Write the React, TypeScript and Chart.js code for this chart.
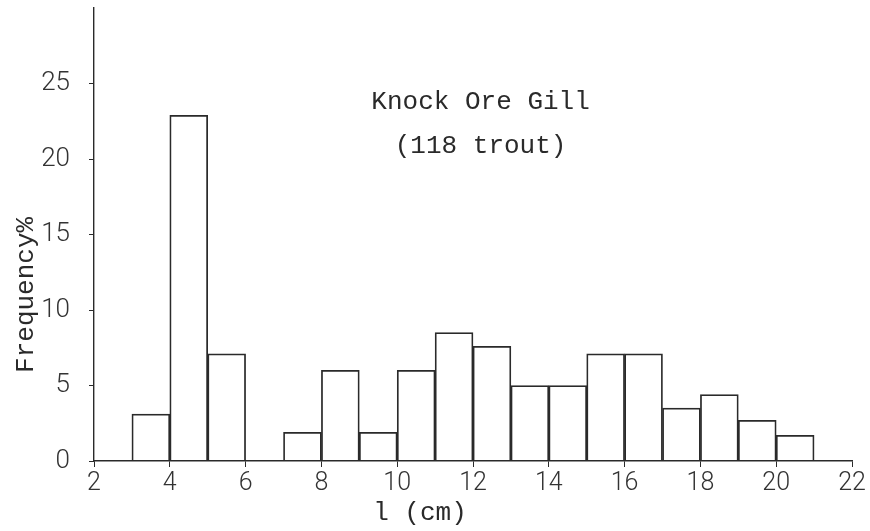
import React, { useEffect, useRef } from "react";
import { Chart, registerables } from "chart.js";

Chart.register(...registerables);

// Length classes (cm): bar from start to start+1
const binStarts = [3, 4, 5, 6, 7, 8, 9, 10, 11, 12, 13, 14, 15, 16, 17, 18, 19, 20];
// Frequency (%) of the 118 trout in each 1 cm class
const frequencies = [3.1, 22.9, 7.1, 0, 1.9, 6.0, 1.9, 6.0, 8.5, 7.6, 5.0, 5.0, 7.1, 7.1, 3.5, 4.4, 2.7, 1.7];

const xTickValues = [2, 4, 6, 8, 10, 12, 14, 16, 18, 20, 22];
const yTickValues = [0, 5, 10, 15, 20, 25];

const titleLines = ["Knock Ore Gill", "(118 trout)"];
const xAxisTitle = "l (cm)";
const yAxisTitle = "Frequency%";

const INK = "#2a2a2a";
const MONO = "'Liberation Mono', 'DejaVu Sans Mono', monospace";
const SANS = "Roboto, 'Liberation Sans', Arial, sans-serif";

const textPlugin = {
  id: "scanText",
  afterDraw(chart: any) {
    const { ctx, scales } = chart;
    const x = scales.x;
    const y = scales.y;
    ctx.save();
    ctx.fillStyle = INK;
    ctx.font = `26px ${MONO}`;
    ctx.textAlign = "center";
    ctx.textBaseline = "middle";
    const cx = x.getPixelForValue(12.2);
    ctx.fillText(titleLines[0], cx, y.getPixelForValue(23.75));
    ctx.fillText(titleLines[1], cx, y.getPixelForValue(20.85));
    // x axis title
    ctx.fillText(xAxisTitle, x.getPixelForValue(10.6), chart.chartArea.bottom + 52);
    // y axis title (rotated)
    ctx.translate(26, y.getPixelForValue(11.0));
    ctx.rotate(-Math.PI / 2);
    ctx.fillText(yAxisTitle, 0, 0);
    ctx.restore();
  },
};

export default function App() {
  const ref = useRef<HTMLCanvasElement | null>(null);

  useEffect(() => {
    if (!ref.current) return;
    const data = binStarts.map((s, i) => ({ x: s + 0.5, y: frequencies[i] }));
    const chart = new Chart(ref.current, {
      type: "bar",
      data: {
        datasets: [
          {
            data: data as any,
            backgroundColor: "rgba(255,255,255,0)",
            borderColor: INK,
            borderWidth: 1.1,
            barPercentage: 1,
            categoryPercentage: 1,
            borderSkipped: "bottom",
          },
        ],
      },
      options: {
        animation: false,
        responsive: false,
        devicePixelRatio: 1,
        layout: { padding: { top: 8, right: 18, left: 0, bottom: 0 } },
        plugins: {
          legend: { display: false },
          tooltip: { enabled: false },
          title: { display: false },
        },
        scales: {
          x: {
            type: "linear",
            min: 2,
            max: 22,
            offset: false,
            afterBuildTicks: (scale: any) => {
              scale.ticks = xTickValues.map((v) => ({ value: v }));
            },
            afterFit: (scale: any) => {
              scale.height = 70;
              scale.paddingLeft = 0;
              scale.paddingRight = 0;
            },
            grid: {
              display: true,
              drawOnChartArea: false,
              drawTicks: true,
              tickLength: 6,
              color: INK,
              offset: false,
            },
            border: { display: true, color: INK, width: 1.4 },
            ticks: {
              color: "#333",
              font: { family: SANS, size: 25, weight: "300" as any },
              padding: 2,
              maxRotation: 0,
              autoSkip: false,
            },
          },
          y: {
            type: "linear",
            min: 0,
            max: 30,
            afterBuildTicks: (scale: any) => {
              scale.ticks = yTickValues.map((v) => ({ value: v }));
            },
            afterFit: (scale: any) => {
              scale.width = 94;
              scale.paddingTop = 0;
              scale.paddingBottom = 0;
            },
            grid: {
              display: true,
              drawOnChartArea: false,
              drawTicks: true,
              tickLength: 5,
              color: INK,
            },
            border: { display: true, color: INK, width: 1.4 },
            ticks: {
              color: "#333",
              font: { family: SANS, size: 26, weight: "300" as any },
              padding: 19,
              autoSkip: false,
            },
          },
        },
      },
      plugins: [textPlugin],
    });
    return () => chart.destroy();
  }, []);

  return (
    <div style={{ position: "absolute", left: 0, top: 0, width: 870, height: 531, background: "#fff" }}>
      <canvas ref={ref} width={870} height={531} />
    </div>
  );
}
